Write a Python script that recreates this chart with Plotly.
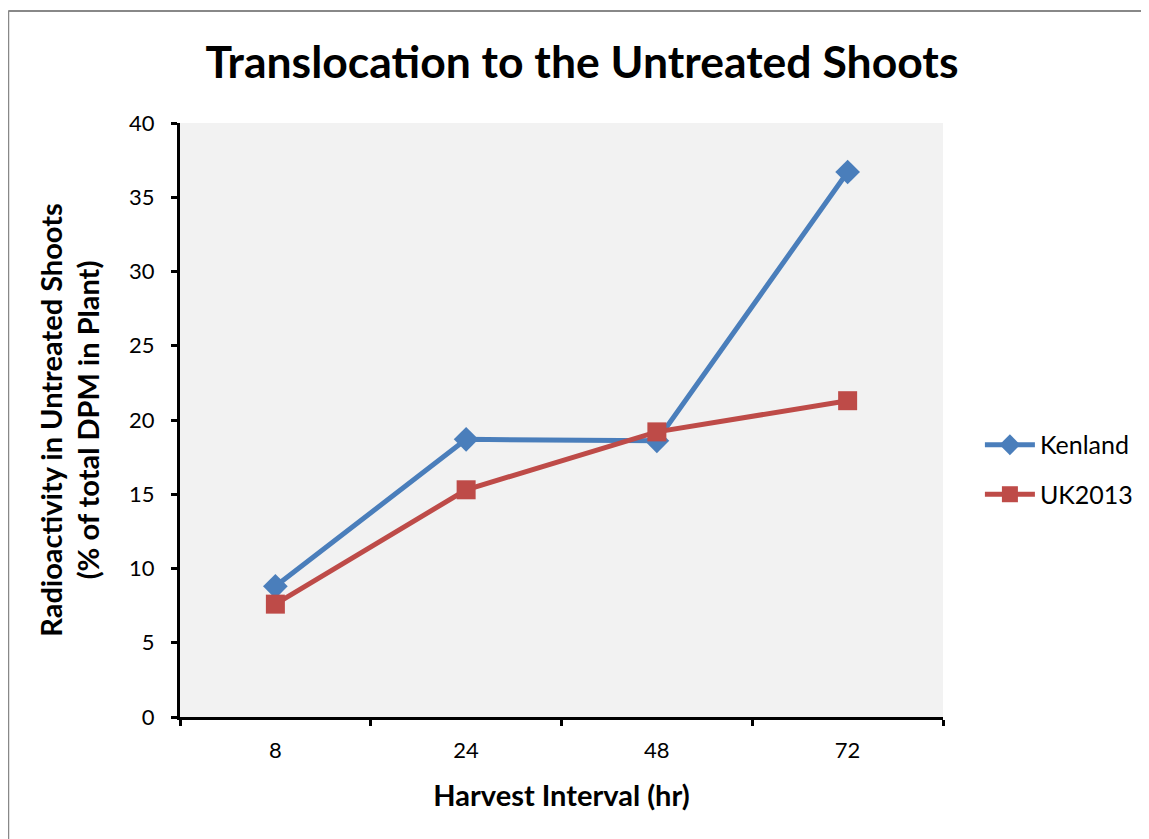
import plotly.graph_objects as go

categories = ["8", "24", "48", "72"]
kenland = [8.8, 18.7, 18.6, 36.7]
uk2013 = [7.6, 15.3, 19.2, 21.3]
y_ticks = [0, 5, 10, 15, 20, 25, 30, 35, 40]

FONT = "Lato, 'Open Sans', sans-serif"

fig = go.Figure()
fig.add_trace(go.Scatter(
    x=categories, y=kenland, name="Kenland", mode="lines+markers", legendgroup="a",
    line=dict(color="#4A7EBB", width=5),
    marker=dict(symbol="diamond", size=19, color="#4A7EBB"),
))
fig.add_trace(go.Scatter(
    x=categories, y=uk2013, name="UK2013", mode="lines+markers", legendgroup="b",
    line=dict(color="#BE4B48", width=5),
    marker=dict(symbol="square", size=19, color="#BE4B48"),
))

border = dict(color="#888888", width=2)

fig.update_layout(
    width=1141, height=831,
    margin=dict(l=172, r=205, t=115, b=122),
    paper_bgcolor="white",
    plot_bgcolor="#F2F2F2",
    font=dict(family=FONT, color="black"),
    title=dict(text="<b>Translocation to the Untreated Shoots</b>",
               x=0.503, xanchor="center", y=0.934, yanchor="middle",
               font=dict(size=44.5, family=FONT)),
    xaxis=dict(
        type="category", range=[-0.5, 3.5],
        tickson="boundaries", ticks="outside", ticklen=6, tickwidth=3, tickcolor="black",
        showline=True, linewidth=3, linecolor="black", showgrid=False, zeroline=False,
        tickfont=dict(size=22), ticklabelstandoff=12,
        title=dict(text="<b>Harvest Interval (hr)</b>", font=dict(size=29), standoff=24),
    ),
    yaxis=dict(
        range=[0, 40], tickvals=y_ticks,
        ticks="outside", ticklen=6, tickwidth=3, tickcolor="black",
        showline=True, linewidth=3, linecolor="black", showgrid=False, zeroline=False,
        tickfont=dict(size=22), ticklabelstandoff=12,
        title=dict(text="<b>Radioactivity in Untreated Shoots<br>(% of total DPM in Plant)</b>",
                   font=dict(size=29), standoff=21),
    ),
    legend=dict(x=1.047, y=0.4167, xanchor="left", yanchor="middle",
                font=dict(size=25), bgcolor="rgba(0,0,0,0)",
                itemwidth=50, tracegroupgap=14),
    shapes=[
        dict(type="line", xref="paper", yref="paper",
             x0=-0.2251, x1=1.3, y0=1.1886, y1=1.1886, line=border, layer="below"),
        dict(type="line", xref="paper", yref="paper",
             x0=-0.2251, x1=-0.2251, y0=-0.3, y1=1.1886, line=border, layer="below"),
    ],
)

fig.write_html("out.html")
